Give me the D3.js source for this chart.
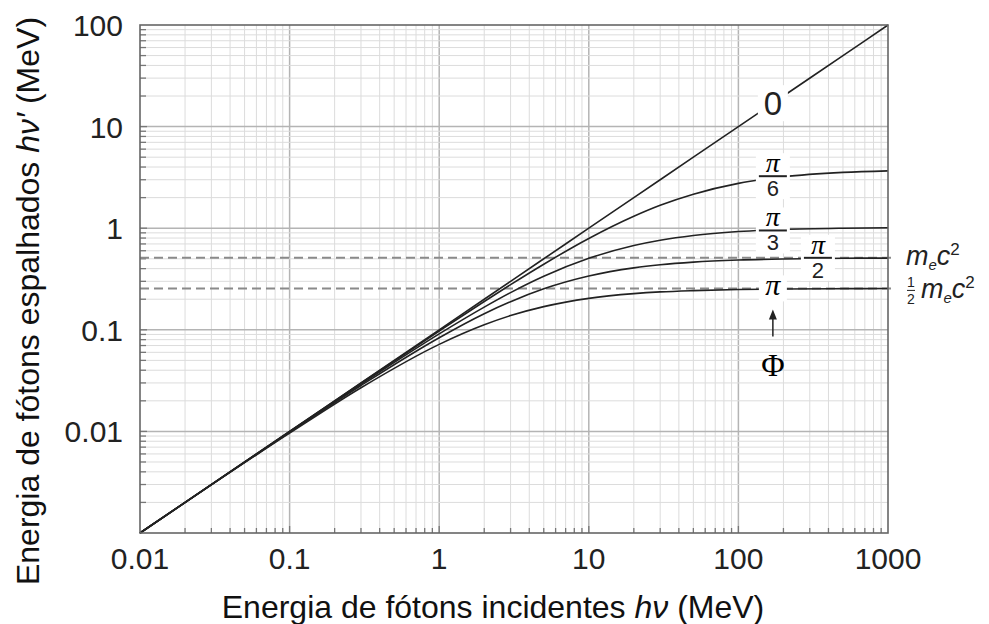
<!DOCTYPE html>
<html>
<head>
<meta charset="utf-8">
<script src="https://cdn.jsdelivr.net/npm/d3@7"></script>
<style>
  body { margin: 0; background: #fff; }
  svg { font-family: "Liberation Sans", Arial, sans-serif; }
</style>
</head>
<body>
<div id="chart"></div>
<script>
/* Compton: scattered photon energy vs incident energy, log-log */

// incident photon energy (MeV), sample points
const energyIn = [0.01, 0.1, 0.3, 1, 2, 3, 5, 10, 20, 30, 50, 100, 200, 500, 1000];

// scattered energy for each angle
const phi0    = [0.001, 0.01, 0.03, 0.1, 0.2, 0.3, 0.5, 1, 2, 3, 5, 10, 20, 50, 100];
const phiPi6  = [0.001, 0.00997, 0.0298, 0.0974, 0.190, 0.278, 0.442, 0.792, 1.31, 1.68, 2.16, 2.76, 3.20, 3.54, 3.67];
const phiPi3  = [0.001, 0.0099, 0.0291, 0.0911, 0.167, 0.232, 0.336, 0.505, 0.676, 0.762, 0.849, 0.927, 0.972, 1.00, 1.01];
const phiPi2  = [0.001, 0.00981, 0.0283, 0.0836, 0.144, 0.189, 0.253, 0.338, 0.407, 0.437, 0.464, 0.486, 0.498, 0.506, 0.508];
const phiPi   = [0.001, 0.00962, 0.0269, 0.0719, 0.112, 0.138, 0.169, 0.204, 0.227, 0.236, 0.243, 0.249, 0.252, 0.254, 0.255];

// reference levels (dashed)
const restEnergy = [0.511, 0.2555];

// axis ticks
const xTicks = [0.01, 0.1, 1, 10, 100, 1000];
const yTicks = [100, 10, 1, 0.1, 0.01];

const margin = {top: 25, right: 101, bottom: 91, left: 140},
width = 989 - margin.left - margin.right,
height = 624 - margin.top - margin.bottom;

const svg = d3.select("#chart")
.append("svg")
.attr("width", 989)
.attr("height", 624);
const g = svg.append("g")
.attr("transform", "translate(" + margin.left + "," + margin.top + ")");

const x = d3.scaleLog().domain([0.01, 1000]).range([0, width]);
const y = d3.scaleLog().domain([0.001, 100]).range([height, 0]);

// minor + major values for grid
function logValues(lo, hi) {
  const out = [];
  for (let e = Math.log10(lo); e < Math.log10(hi); e++) {
    for (let m = 1; m < 10; m++) out.push({v: m * Math.pow(10, e), major: m === 1});
  }
  return out;
}
const xGrid = logValues(0.01, 1000);
const yGrid = logValues(0.001, 100);

// grid lines
g.append("g").selectAll("line")
  .data(xGrid.filter(d => d.v > 0.01))
  .join("line")
  .attr("x1", d => x(d.v)).attr("x2", d => x(d.v))
  .attr("y1", 0).attr("y2", height)
  .attr("stroke", d => d.major ? "#b4b4b4" : "#dcdcdc")
  .attr("stroke-width", d => d.major ? 1.5 : 1);

g.append("g").selectAll("line")
  .data(yGrid.filter(d => d.v > 0.001))
  .join("line")
  .attr("x1", 0).attr("x2", width)
  .attr("y1", d => y(d.v)).attr("y2", d => y(d.v))
  .attr("stroke", d => d.major ? "#b4b4b4" : "#dcdcdc")
  .attr("stroke-width", d => d.major ? 1.5 : 1);

// small inside ticks on left and bottom
g.append("g").selectAll("line")
  .data(xGrid.filter(d => d.v > 0.01))
  .join("line")
  .attr("x1", d => x(d.v)).attr("x2", d => x(d.v))
  .attr("y1", height).attr("y2", d => height - (d.major ? 7 : 5))
  .attr("stroke", "#777").attr("stroke-width", 1.3);

g.append("g").selectAll("line")
  .data(yGrid.filter(d => d.v > 0.001))
  .join("line")
  .attr("x1", 0).attr("x2", d => d.major ? 7 : 6)
  .attr("y1", d => y(d.v)).attr("y2", d => y(d.v))
  .attr("stroke", "#777").attr("stroke-width", 1.3);

// dashed rest energy lines
g.append("g").selectAll("line")
  .data(restEnergy)
  .join("line")
  .attr("x1", 0).attr("x2", width + 7)
  .attr("y1", d => y(d)).attr("y2", d => y(d))
  .attr("stroke", "#8a8a8a")
  .attr("stroke-width", 2)
  .attr("stroke-dasharray", "9,5");

// curves
const line = d3.line()
  .x(d => x(d[0]))
  .y(d => y(d[1]))
  .curve(d3.curveMonotoneX);

[phi0, phiPi6, phiPi3, phiPi2, phiPi].forEach(function(s) {
  g.append("path")
    .attr("fill", "none")
    .attr("stroke", "#222")
    .attr("stroke-width", 1.6)
    .attr("d", line(energyIn.map((e, i) => [e, s[i]])));
});

// curve labels (white boxes break the lines behind them)
const labelX = 170;
const serif = "'Liberation Serif', 'Times New Roman', serif";

function box(cx, cy, w, h) {
  g.append("rect")
    .attr("x", cx - w / 2).attr("y", cy - h / 2)
    .attr("width", w).attr("height", h)
    .attr("fill", "#fff");
}

function fraction(cx, cy, den) {
  box(cx, cy, 34, 46);
  g.append("text")
    .attr("x", cx).attr("y", cy - 4)
    .attr("text-anchor", "middle")
    .attr("font-family", serif)
    .attr("font-style", "italic")
    .attr("font-size", 28)
    .text("π");
  g.append("line")
    .attr("x1", cx - 14).attr("x2", cx + 14)
    .attr("y1", cy).attr("y2", cy)
    .attr("stroke", "#222").attr("stroke-width", 2);
  g.append("text")
    .attr("x", cx).attr("y", cy + 20)
    .attr("text-anchor", "middle")
    .attr("font-size", 22)
    .attr("fill", "#222")
    .text(den);
}

// "0"
const zx = x(labelX), zy = y(phi0[11] * 1.7);
box(zx, zy, 30, 36);
g.append("text")
  .attr("x", zx).attr("y", zy + 12)
  .attr("text-anchor", "middle")
  .attr("font-size", 33)
  .attr("fill", "#222")
  .text("0");

fraction(x(labelX), y(3.25), "6");
fraction(x(labelX), y(0.95), "3");
fraction(x(340), y(restEnergy[0]), "2");

// "π" for phi = pi
const px = x(labelX), py = y(restEnergy[1]);
box(px, py, 28, 26);
g.append("text")
  .attr("x", px).attr("y", py + 7)
  .attr("text-anchor", "middle")
  .attr("font-family", serif)
  .attr("font-style", "italic")
  .attr("font-size", 30)
  .text("π");

// arrow + Phi
g.append("line")
  .attr("x1", px).attr("x2", px)
  .attr("y1", py + 48).attr("y2", py + 26)
  .attr("stroke", "#222").attr("stroke-width", 1.5);
g.append("path")
  .attr("d", d3.line()([[px - 4, py + 31], [px, py + 21], [px + 4, py + 31]]))
  .attr("fill", "#222");
g.append("text")
  .attr("x", px).attr("y", py + 88)
  .attr("text-anchor", "middle")
  .attr("font-family", serif)
  .attr("font-size", 32)
  .text("Φ");

// m_e c^2 labels at the right
const rx = width + 18;
function mcText(sel) {
  sel.append("tspan").text("m");
  sel.append("tspan").attr("font-size", 15).attr("dy", 5).text("e");
  sel.append("tspan").attr("dy", -5).text("c");
  sel.append("tspan").attr("font-size", 17).attr("font-style", "normal").attr("dy", -10).text("2");
}
mcText(g.append("text")
  .attr("x", rx).attr("y", y(restEnergy[0]) + 7)
  .attr("font-size", 27)
  .attr("font-style", "italic")
  .attr("fill", "#222"));

const hy = y(restEnergy[1]);
g.append("text").attr("x", rx + 5).attr("y", hy - 1)
  .attr("text-anchor", "middle").attr("font-size", 14).attr("fill", "#222").text("1");
g.append("line").attr("x1", rx + 1).attr("x2", rx + 9).attr("y1", hy + 2).attr("y2", hy + 2)
  .attr("stroke", "#222").attr("stroke-width", 1);
g.append("text").attr("x", rx + 5).attr("y", hy + 16)
  .attr("text-anchor", "middle").attr("font-size", 14).attr("fill", "#222").text("2");
mcText(g.append("text")
  .attr("x", rx + 15).attr("y", hy + 10)
  .attr("font-size", 27)
  .attr("font-style", "italic")
  .attr("fill", "#222"));

// frame
g.append("rect")
  .attr("width", width).attr("height", height)
  .attr("fill", "none")
  .attr("stroke", "#666")
  .attr("stroke-width", 1.6);

// tick labels
g.append("g").selectAll("text")
  .data(xTicks)
  .join("text")
  .attr("x", d => x(d)).attr("y", height + 36)
  .attr("text-anchor", "middle")
  .attr("font-size", 30)
  .attr("fill", "#222")
  .text(d => d);

g.append("g").selectAll("text")
  .data(yTicks)
  .join("text")
  .attr("x", -17).attr("y", d => y(d) + 11)
  .attr("text-anchor", "end")
  .attr("font-size", 30)
  .attr("fill", "#222")
  .text(d => d);

// axis titles
const xt = svg.append("text")
  .attr("x", 493).attr("y", 618)
  .attr("text-anchor", "middle")
  .attr("font-size", 32)
  .attr("fill", "#111");
xt.append("tspan").text("Energia de fótons incidentes ");
xt.append("tspan").attr("font-style", "italic").text("hν");
xt.append("tspan").text(" (MeV)");

const yt = svg.append("text")
  .attr("transform", "translate(39,301) rotate(-90)")
  .attr("text-anchor", "middle")
  .attr("font-size", 32)
  .attr("fill", "#111");
yt.append("tspan").text("Energia de fótons espalhados ");
yt.append("tspan").attr("font-style", "italic").text("hν′");
yt.append("tspan").text(" (MeV)");
</script>
</body>
</html>
